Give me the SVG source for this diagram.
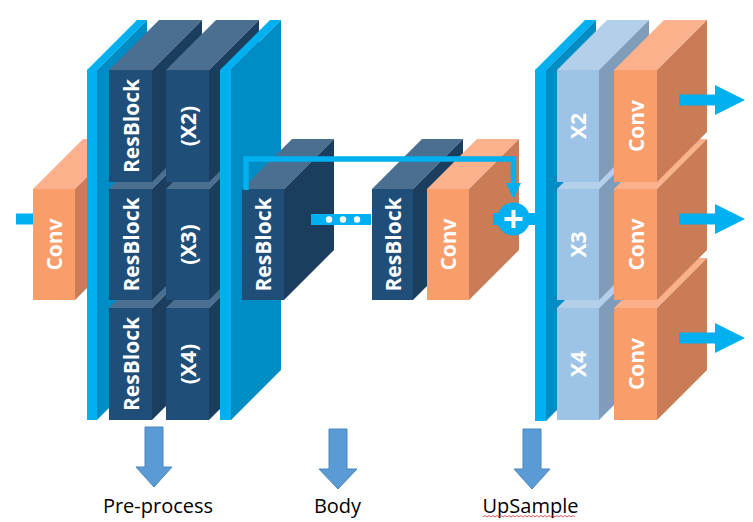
<svg xmlns="http://www.w3.org/2000/svg" width="753" height="522" viewBox="0 0 753 522">
<style>
.bb{fill:#00B0F0}
.bs{fill:#008CC4}
.rf{fill:#1F4E79}
.rt{fill:#4B6F91}
.rs{fill:#1B3D5E}
.lf{fill:#9DC3E6}
.lt{fill:#B3D0EB}
.ls{fill:#7F9DBB}
.of{fill:#F99D6B}
.ot{fill:#FBB18B}
.os{fill:#C97C55}
.t{font-family:"Open Sans","DejaVu Sans",sans-serif;font-weight:bold;font-size:21px;fill:#fff;text-anchor:middle;dominant-baseline:central}
.lbl{font-family:"Open Sans","Liberation Sans",sans-serif;font-size:20px;fill:#000;text-anchor:middle}
.da{fill:#5B9BD5;stroke:#4A86BE;stroke-width:1}
.skip{fill:none;stroke:#00B0F0;stroke-width:5.5}
</style>
<rect width="753" height="522" fill="#fff"/>

<g id="preprocess">
  <g id="conv-in">
    <rect class="bb" x="16" y="213.5" width="18" height="11"/>
    <polygon class="ot" points="33,189 83,139 125,139 75,189"/>
    <polygon class="os" points="75,189 125,139 125,250 75,300"/>
    <rect class="of" x="33" y="189" width="42" height="111"/>
    <text class="t" transform="translate(54,244.5) rotate(-90)">Conv</text>
  </g>
  <g id="panel-left">
    <polygon class="bb" points="87,70 137,20 147,20 97,70"/>
    <polygon class="bs" points="97,70 147,20 147,370 97,420"/>
    <rect class="bb" x="87" y="70" width="10" height="350"/>
  </g>
  <g id="resblock-col1">
    <polygon class="rt" points="109,308 159,258 202,258 152,308"/>
    <polygon class="rs" points="152,308 202,258 202,370 152,420"/>
    <rect class="rf" x="109" y="308" width="43" height="112"/>
    <polygon class="rt" points="109,189 159,139 202,139 152,189"/>
    <polygon class="rs" points="152,189 202,139 202,250 152,300"/>
    <rect class="rf" x="109" y="189" width="43" height="111"/>
    <polygon class="rt" points="109,70 159,20 202,20 152,70"/>
    <polygon class="rs" points="152,70 202,20 202,132 152,182"/>
    <rect class="rf" x="109" y="70" width="43" height="112"/>
    <text class="t" transform="translate(130.5,126) rotate(-90)">ResBlock</text>
    <text class="t" transform="translate(130.5,244.5) rotate(-90)">ResBlock</text>
    <text class="t" transform="translate(130.5,364) rotate(-90)">ResBlock</text>
  </g>
  <g id="resblock-col2">
    <polygon class="rt" points="166,308 216,258 259,258 209,308"/>
    <polygon class="rs" points="209,308 259,258 259,370 209,420"/>
    <rect class="rf" x="166" y="308" width="43" height="112"/>
    <polygon class="rt" points="166,189 216,139 259,139 209,189"/>
    <polygon class="rs" points="209,189 259,139 259,250 209,300"/>
    <rect class="rf" x="166" y="189" width="43" height="111"/>
    <polygon class="rt" points="166,70 216,20 259,20 209,70"/>
    <polygon class="rs" points="209,70 259,20 259,132 209,182"/>
    <rect class="rf" x="166" y="70" width="43" height="112"/>
    <text class="t" transform="translate(187.5,126) rotate(-90)">(X2)</text>
    <text class="t" transform="translate(187.5,244.5) rotate(-90)">(X3)</text>
    <text class="t" transform="translate(187.5,364) rotate(-90)">(X4)</text>
  </g>
  <g id="panel-mid">
    <polygon class="bb" points="220,70 270,20 281,20 231,70"/>
    <polygon class="bs" points="231,70 281,20 281,370 231,420"/>
    <rect class="bb" x="220" y="70" width="11" height="350"/>
  </g>
</g>

<g id="body">
  <g id="resblock-a">
    <polygon class="rt" points="242,189 292,139 334,139 284,189"/>
    <polygon class="rs" points="284,189 334,139 334,250 284,300"/>
    <rect class="rf" x="242" y="189" width="42" height="111"/>
    <text class="t" transform="translate(263,244.5) rotate(-90)">ResBlock</text>
  </g>
  <g id="dots">
    <rect class="bb" x="311" y="214" width="60" height="11"/>
    <circle cx="329" cy="219.5" r="3.2" fill="#fff"/>
    <circle cx="343" cy="219.5" r="3.2" fill="#fff"/>
    <circle cx="357" cy="219.5" r="3.2" fill="#fff"/>
  </g>
  <g id="resblock-b">
    <polygon class="rt" points="372,189 422,139 463,139 413,189"/>
    <polygon class="rs" points="413,189 463,139 463,250 413,300"/>
    <rect class="rf" x="372" y="189" width="41" height="111"/>
    <text class="t" transform="translate(392.5,244.5) rotate(-90)">ResBlock</text>
  </g>
  <g id="conv-body">
    <polygon class="ot" points="427,189 477,139 519,139 469,189"/>
    <polygon class="os" points="469,189 519,139 519,250 469,300"/>
    <rect class="of" x="427" y="189" width="42" height="111"/>
    <text class="t" transform="translate(448,244.5) rotate(-90)">Conv</text>
  </g>
  <g id="add">
    <rect class="bb" x="493" y="213" width="10" height="12"/>
    <rect class="bb" x="524" y="213" width="12" height="12"/>
    <circle class="bb" cx="513.5" cy="219" r="16.5"/>
    <path d="M504.5,219H522.5M513.5,210V228" stroke="#fff" stroke-width="4" fill="none"/>
  </g>
</g>

<g id="connectors">
  <path class="skip" d="M246,190V159H513.5V186"/>
  <polygon class="bb" points="506,183 521,183 513.5,199"/>
</g>

<g id="upsample">
  <g id="panel-right">
    <polygon class="bb" points="535,70 585,20 596,20 546,70"/>
    <polygon class="bs" points="546,70 596,20 596,371 546,421"/>
    <rect class="bb" x="535" y="70" width="11" height="351"/>
  </g>
  <g id="scale-col">
    <polygon class="lt" points="557,308 607,258 649,258 599,308"/>
    <polygon class="ls" points="599,308 649,258 649,370 599,420"/>
    <rect class="lf" x="557" y="308" width="42" height="112"/>
    <polygon class="lt" points="557,189 607,139 649,139 599,189"/>
    <polygon class="ls" points="599,189 649,139 649,250 599,300"/>
    <rect class="lf" x="557" y="189" width="42" height="111"/>
    <polygon class="lt" points="557,70 607,20 649,20 599,70"/>
    <polygon class="ls" points="599,70 649,20 649,132 599,182"/>
    <rect class="lf" x="557" y="70" width="42" height="112"/>
    <text class="t" transform="translate(578,126) rotate(-90)">X2</text>
    <text class="t" transform="translate(578,244.5) rotate(-90)">X3</text>
    <text class="t" transform="translate(578,364) rotate(-90)">X4</text>
  </g>
  <g id="conv-col">
    <polygon class="ot" points="614,308 664,258 707,258 657,308"/>
    <polygon class="os" points="657,308 707,258 707,370 657,420"/>
    <rect class="of" x="614" y="308" width="43" height="112"/>
    <polygon class="ot" points="614,189 664,139 707,139 657,189"/>
    <polygon class="os" points="657,189 707,139 707,250 657,300"/>
    <rect class="of" x="614" y="189" width="43" height="111"/>
    <polygon class="ot" points="614,70 664,20 707,20 657,70"/>
    <polygon class="os" points="657,70 707,20 707,132 657,182"/>
    <rect class="of" x="614" y="70" width="43" height="112"/>
    <text class="t" transform="translate(635.5,126) rotate(-90)">Conv</text>
    <text class="t" transform="translate(635.5,244.5) rotate(-90)">Conv</text>
    <text class="t" transform="translate(635.5,364) rotate(-90)">Conv</text>
  </g>
  <g id="outputs">
    <polygon class="bb" points="679,94.5 715,94.5 715,85 745,100 715,115 715,105.5 679,105.5"/>
    <polygon class="bb" points="679,213.5 715,213.5 715,204 745,219 715,234 715,224.5 679,224.5"/>
    <polygon class="bb" points="679,332.5 715,332.5 715,323 745,338 715,353 715,343.5 679,343.5"/>
  </g>
</g>

<g id="labels">
  <polygon class="da" points="145,427 163,427 163,467 172,467 154,487 136,467 145,467"/>
  <polygon class="da" points="329,429 347,429 347,469 357,469 338,489 319,469 329,469"/>
  <polygon class="da" points="523,429 541,429 541,469 550,469 532,489 514,469 523,469"/>
  <text class="lbl" x="158" y="513">Pre-process</text>
  <text class="lbl" x="337.5" y="513">Body</text>
  <text class="lbl" x="530.5" y="513">UpSample</text>
  <path d="M483,517l2,-1.5l2,1.5l2,-1.5l2,1.5l2,-1.5l2,1.5l2,-1.5l2,1.5l2,-1.5l2,1.5l2,-1.5l2,1.5l2,-1.5l2,1.5l2,-1.5l2,1.5l2,-1.5l2,1.5l2,-1.5l2,1.5l2,-1.5l2,1.5l2,-1.5l2,1.5l2,-1.5l2,1.5l2,-1.5l2,1.5l2,-1.5l2,1.5l2,-1.5l2,1.5l2,-1.5l2,1.5l2,-1.5l2,1.5l2,-1.5l2,1.5l2,-1.5l2,1.5l2,-1.5l2,1.5l2,-1.5l2,1.5l2,-1.5l2,1.5" fill="none" stroke="#E03030" stroke-width="0.8"/>
</g>
</svg>
